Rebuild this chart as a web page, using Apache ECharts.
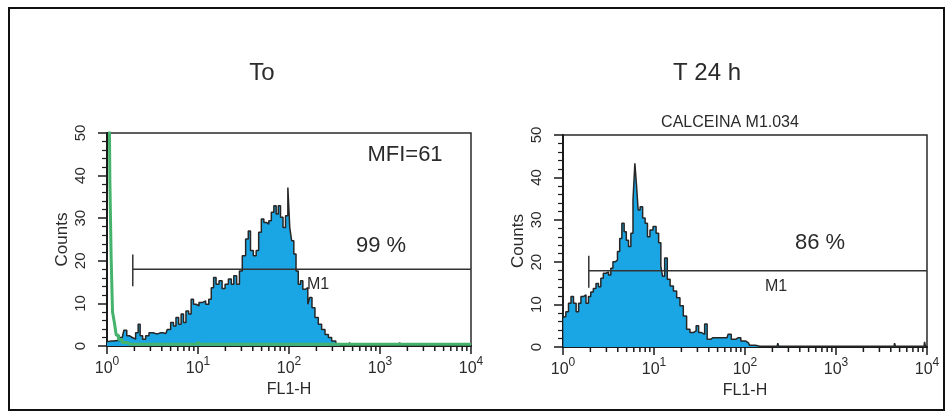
<!DOCTYPE html>
<html>
<head>
<meta charset="utf-8">
<script src="https://cdn.jsdelivr.net/npm/echarts@6/dist/echarts.min.js"></script>
<style>
html, body { margin: 0; padding: 0; background: #fff; }
#calceina { width: 952px; height: 412px; }
</style>
</head>
<body>
<div id="calceina"></div>
<script>
// FL1-H channel values (log scale) and counts
var toChannels = [
  1.0, 1.05, 1.19, 1.30, 1.47, 1.60, 1.70, 1.82, 1.98, 2.15,
  2.25, 2.38, 2.55, 2.77, 3.02, 3.43, 3.89, 4.42, 4.80, 5.22,
  5.54, 5.92, 6.34, 6.72, 7.14, 7.62, 8.17, 8.65, 9.20, 9.82,
  10.7, 11.6, 12.7, 13.6, 14.4, 15.3, 16.3, 17.8, 19.0, 20.7,
  22.5, 24.0, 25.5, 27.7, 29.4, 32.0, 34.8, 36.6, 38.9, 42.3,
  44.9, 48.0, 51.4, 54.5, 58.3, 61.8, 66.2, 70.2, 74.3, 78.2,
  83.2, 88.8, 94.4, 100, 104, 110, 116, 123, 130, 138,
  146, 157, 165, 173, 185, 201, 219, 238, 260, 282,
  307, 348, 379, 455, 468, 481, 1620, 1660, 1700, 10000
];
var toCounts = [
  1.0, 1.2, 1.2, 1.3, 2.0, 3.7, 2.4, 2.0, 1.6, 3.1,
  5.1, 2.4, 1.6, 2.4, 3.1, 2.9, 3.1, 2.9, 3.9, 5.5,
  4.7, 6.7, 5.1, 7.5, 5.5, 8.2, 7.5, 11.0, 9.8, 9.4,
  10.2, 10.6, 9.8, 11.0, 13.7, 16.1, 14.5, 15.3, 13.5, 14.5,
  15.7, 14.5, 16.5, 14.5, 17.6, 21.2, 25.1, 27.0, 22.4, 21.2,
  22.4, 26.7, 29.8, 29.0, 28.6, 29.4, 31.4, 32.9, 31.0, 32.9,
  30.2, 27.8, 30.6, 37.2, 27.8, 24.7, 21.6, 17.6, 14.5, 15.3,
  13.3, 13.7, 9.8, 11.4, 9.0, 6.7, 5.1, 3.9, 2.7, 2.0,
  1.2, 0.5, 0.1, 0.1, 0.8, 0.1, 0.1, 0.8, 0.1, 0.1
];

// control (green) histogram in the To panel
var controlChannels = [1.0, 1.06, 1.09, 1.13, 1.17, 1.24, 1.29, 1.39, 1.54, 1.8, 9.7, 10.2, 10.7, 10000];
var controlCounts = [55, 55, 39, 21, 8, 5.5, 2.5, 1.5, 0.8, 0.4, 0.4, 0.9, 0.4, 0.4];

var t24Channels = [
  1.0, 1.01, 1.04, 1.11, 1.19, 1.26, 1.35, 1.44, 1.53, 1.62,
  1.73, 1.85, 1.96, 2.08, 2.23, 2.38, 2.53, 2.68, 2.87, 3.07,
  3.26, 3.45, 3.63, 3.85, 4.09, 4.31, 4.56, 4.84, 5.09, 5.41,
  5.73, 6.03, 6.30, 6.55, 6.84, 7.25, 7.76, 8.22, 8.74, 9.33,
  10.2, 10.9, 11.6, 12.2, 12.6, 13.6, 14.4, 15.7, 17.0, 18.5,
  20.1, 21.9, 23.8, 25.9, 28.2, 29.9, 32.0, 34.8, 37.3, 39.5,
  44.5, 53.1, 63.4, 67.1, 74.3, 84.4, 95.8, 109, 116, 146,
  226, 232, 238, 4350, 4450, 4550, 9300, 9500, 9700, 10000
];
var t24Counts = [
  30, 7.0, 7.2, 8.3, 10.3, 11.9, 10.3, 8.3, 10.3, 11.9,
  12.3, 10.3, 11.9, 13.0, 13.8, 15.0, 14.2, 16.2, 17.4, 17.7,
  17.0, 18.6, 20.1, 20.5, 22.5, 25.6, 29.2, 27.2, 25.2, 23.7,
  26.8, 34.7, 43.3, 38.2, 32.3, 33.1, 30.4, 29.2, 26.0, 27.6,
  28.4, 26.8, 24.6, 19.1, 16.7, 21.0, 16.0, 14.4, 13.2, 11.6,
  9.7, 7.3, 4.2, 3.4, 3.8, 5.0, 3.4, 3.0, 5.4, 1.8,
  2.2, 2.2, 2.2, 3.0, 1.8, 2.2, 1.4, 1.0, 0.4, 0.2,
  0.2, 0.9, 0.2, 0.2, 0.9, 0.2, 0.2, 1.2, 0.2, 0.2
];

// M1 marker: range on FL1-H, level and end bar in counts
var m1Range = [1.92, 10000];
var m1Level = 18;
var m1Bar = [14, 21.5];

var minorTickVals = [2, 3, 4, 5, 6, 7, 8, 9, 20, 30, 40, 50, 60, 70, 80, 90,
  200, 300, 400, 500, 600, 700, 800, 900, 2000, 3000, 4000, 5000, 6000, 7000, 8000, 9000];

var FONT = '"Liberation Sans", Arial, Helvetica, sans-serif';
var INK = '#2b2b2b';
var AXIS = '#1a1a1a';

function zip(xs, ys) {
  return xs.map(function (x, i) { return [x, ys[i]]; });
}

function xAxisCfg(gi) {
  return {
    type: 'log', logBase: 10, gridIndex: gi, min: 1, max: 10000,
    name: 'FL1-H', nameLocation: 'middle', nameGap: 35,
    nameTextStyle: { fontSize: 16, color: INK, fontFamily: FONT },
    axisLine: { lineStyle: { color: AXIS, width: 2 } },
    axisTick: { length: 8, lineStyle: { color: AXIS, width: 1.5 } },
    axisLabel: {
      margin: 10,
      formatter: function (v) { return '{b|10}{s|' + Math.round(Math.log10(v)) + '}'; },
      rich: {
        b: { fontSize: 16, color: INK, fontFamily: FONT },
        s: { fontSize: 12, color: INK, fontFamily: FONT, padding: [0, 0, 14, 0] }
      }
    },
    splitLine: { show: false }
  };
}

function yAxisCfg(gi) {
  return {
    type: 'value', gridIndex: gi, min: 0, max: 50, interval: 10,
    name: 'Counts', nameLocation: 'middle', nameGap: 36,
    nameTextStyle: { fontSize: 17, color: INK, fontFamily: FONT },
    axisLine: { show: true, lineStyle: { color: AXIS, width: 2 } },
    axisTick: { show: true, length: 9, lineStyle: { color: AXIS, width: 1.5 } },
    minorTick: { show: true, splitNumber: 5, length: 5, lineStyle: { color: AXIS, width: 1.2 } },
    axisLabel: { rotate: 90, margin: 19, fontSize: 15, color: INK, fontFamily: FONT },
    splitLine: { show: false }
  };
}

function histSeries(gi, xs, ys) {
  return {
    type: 'line', xAxisIndex: gi, yAxisIndex: gi, step: 'middle', symbol: 'none',
    data: zip(xs, ys), z: 2,
    lineStyle: { color: '#262626', width: 1.5 },
    areaStyle: { color: '#1aa6e4', opacity: 1 }
  };
}

function m1Series(gi) {
  return [
    {
      type: 'line', xAxisIndex: gi, yAxisIndex: gi, symbol: 'none', z: 4,
      data: [[m1Range[0], m1Level], [m1Range[1], m1Level]],
      lineStyle: { color: '#333', width: 1.5 }
    },
    {
      type: 'line', xAxisIndex: gi, yAxisIndex: gi, symbol: 'none', z: 4,
      data: [[m1Range[0], m1Bar[0]], [m1Range[0], m1Bar[1]]],
      lineStyle: { color: '#333', width: 1.5 }
    }
  ];
}

function minorTickSeries(gi) {
  return {
    type: 'custom', xAxisIndex: gi, yAxisIndex: gi, silent: true, z: 5,
    data: minorTickVals.map(function (v) { return [v, 0]; }),
    renderItem: function (params, api) {
      var p = api.coord([api.value(0), 0]);
      return {
        type: 'line',
        shape: { x1: p[0], y1: p[1], x2: p[0], y2: p[1] + 5 },
        style: { stroke: AXIS, lineWidth: 1.5 }
      };
    }
  };
}

function label(text, x, y, size) {
  return {
    type: 'text', x: x, y: y, silent: true,
    style: { text: text, align: 'center', verticalAlign: 'middle', fontSize: size, fontFamily: FONT, fill: INK }
  };
}

var chart = echarts.init(document.getElementById('calceina'));
var option = {
  animation: false,
  backgroundColor: '#fff',
  grid: [
    { left: 107, top: 133, width: 364, height: 213, show: true, borderColor: '#2a2a2a', borderWidth: 1.5 },
    { left: 563, top: 135, width: 364, height: 212, show: true, borderColor: '#2a2a2a', borderWidth: 1.5 }
  ],
  xAxis: [xAxisCfg(0), xAxisCfg(1)],
  yAxis: [yAxisCfg(0), yAxisCfg(1)],
  series: [
    histSeries(0, toChannels, toCounts),
    {
      type: 'line', xAxisIndex: 0, yAxisIndex: 0, step: 'middle', symbol: 'none', z: 3,
      data: zip(controlChannels, controlCounts),
      lineStyle: { color: '#45b36b', width: 3 }
    },
    histSeries(1, t24Channels, t24Counts),
    minorTickSeries(0),
    minorTickSeries(1)
  ].concat(m1Series(0), m1Series(1)),
  graphic: [
    {
      type: 'rect', silent: true,
      shape: { x: 9, y: 8, width: 935, height: 402 },
      style: { fill: 'none', stroke: '#111', lineWidth: 2 }
    },
    label('To', 262, 73, 24),
    label('T 24 h', 707, 73, 24),
    label('MFI=61', 405, 155, 22),
    label('99 %', 381, 246, 22),
    label('M1', 318, 285, 16),
    label('CALCEINA M1.034', 730, 123, 16),
    label('86 %', 820, 243, 22),
    label('M1', 776, 287, 16)
  ]
};
chart.setOption(option);
</script>
</body>
</html>
